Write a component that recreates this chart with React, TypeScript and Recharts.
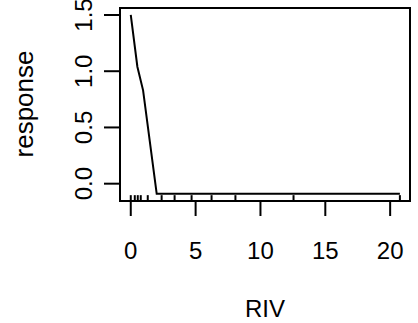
import React from 'react';
import { LineChart, Line, XAxis, YAxis, ReferenceLine, ReferenceArea } from 'recharts';

const rivValues = [0, 0.51, 0.95, 2.0, 20.75];
const responseValues = [1.5, 1.04, 0.83, -0.09, -0.09];
const rugValues = [0, 0.31, 0.54, 0.77, 1.31, 2.38, 3.38, 4.69, 6.23, 8.07, 12.55, 20.75];
const xTicks = [0, 5, 10, 15, 20];
const yTicks = [0, 0.5, 1, 1.5];
const xDomain: [number, number] = [-0.83, 21.53];
const yDomain: [number, number] = [-0.154, 1.562];
const rugLength = 0.052;

const data = rivValues.map((x, i) => ({ x, y: responseValues[i] }));

const FONT = 'Liberation Sans, Arial, sans-serif';

const XTick = (p: any) => (
  <text x={p.x} y={259} textAnchor="middle" fontFamily={FONT} fontSize={24} fill="#000">
    {p.payload.value}
  </text>
);

const YTick = (p: any) => (
  <text
    x={92}
    y={p.y}
    textAnchor="middle"
    fontFamily={FONT}
    fontSize={24}
    fill="#000"
    transform={`rotate(-90, 92, ${p.y})`}
  >
    {p.payload.value.toFixed(1)}
  </text>
);

export default function App() {
  return (
    <div style={{ position: 'absolute', left: 0, top: 0, width: 418, height: 323, background: '#fff' }}>
      <LineChart width={418} height={323} data={data} margin={{ left: 0, right: 8, top: 8, bottom: 0 }}>
        <XAxis
          dataKey="x"
          type="number"
          domain={xDomain}
          allowDataOverflow
          ticks={xTicks}
          axisLine={false}
          tickLine={{ stroke: '#000', strokeWidth: 2 }}
          tickSize={15}
          tick={XTick}
          height={122}
          label={() => (
            <text x={265} y={317} textAnchor="middle" fontFamily={FONT} fontSize={24} fill="#000">
              RIV
            </text>
          )}
        />
        <YAxis
          dataKey="y"
          type="number"
          domain={yDomain}
          allowDataOverflow
          ticks={yTicks}
          axisLine={false}
          tickLine={{ stroke: '#000', strokeWidth: 2 }}
          tickSize={16}
          tick={YTick}
          width={120}
          label={() => (
            <text
              x={33}
              y={104}
              textAnchor="middle"
              fontFamily={FONT}
              fontSize={26}
              fill="#000"
              transform="rotate(-90, 33, 104)"
            >
              response
            </text>
          )}
        />
        <ReferenceArea x1={xDomain[0]} x2={xDomain[1]} y1={yDomain[0]} y2={yDomain[1]} fill="none" stroke="#000" strokeWidth={2} ifOverflow="visible" />
        {rugValues.map((v, i) => (
          <ReferenceLine
            key={i}
            segment={[{ x: v, y: yDomain[0] }, { x: v, y: yDomain[0] + rugLength }]}
            stroke="#000"
            strokeWidth={2}
            ifOverflow="visible"
          />
        ))}
        <Line type="linear" dataKey="y" stroke="#000" strokeWidth={2} dot={false} isAnimationActive={false} />
      </LineChart>
    </div>
  );
}
